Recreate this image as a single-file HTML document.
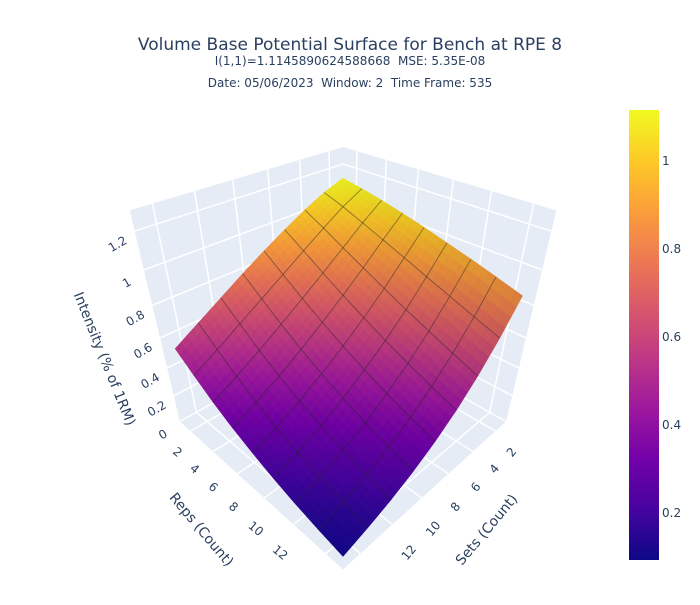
<!DOCTYPE html>
<html><head><meta charset="utf-8">
<style>
html,body{margin:0;padding:0;background:#fff;}
svg text{font-family:"DejaVu Sans","Liberation Sans",sans-serif;fill:#2a3f5f;white-space:pre;}
</style></head>
<body>
<svg id="chart" width="700" height="600" viewBox="0 0 700 600">
  <text x="350" y="50" text-anchor="middle" font-size="17">Volume Base Potential Surface for Bench at RPE 8</text>
  <text x="350" y="65" text-anchor="middle" font-size="12" xml:space="preserve">I(1,1)=1.1145890624588668  MSE: 5.35E-08</text>
  <text x="350" y="87" text-anchor="middle" font-size="12" xml:space="preserve">Date: 05/06/2023  Window: 2  Time Frame: 535</text>
  <g id="scene"></g>
  <defs>
    <linearGradient id="plasma" x1="0" y1="1" x2="0" y2="0">
      <stop offset="0" stop-color="#0d0887"/><stop offset="0.111" stop-color="#46039f"/>
      <stop offset="0.222" stop-color="#7201a8"/><stop offset="0.333" stop-color="#9c179e"/>
      <stop offset="0.444" stop-color="#bd3786"/><stop offset="0.556" stop-color="#d8576b"/>
      <stop offset="0.667" stop-color="#ed7953"/><stop offset="0.778" stop-color="#fb9f3a"/>
      <stop offset="0.889" stop-color="#fdca26"/><stop offset="1" stop-color="#f0f921"/>
    </linearGradient>
  </defs>
  <g id="colorbar">
    <rect x="629" y="110" width="30" height="450" fill="url(#plasma)"/>
  </g>
</svg>
<script>
// ---- data ----
const repsValues = [1, 2.5, 4, 5.5, 7, 8.5, 10, 11.5, 13];
const setsValues = [1, 2.5, 4, 5.5, 7, 8.5, 10, 11.5, 13];
// intensity rows: one row per reps value, columns per sets value
const intensityRows = [
  [1.114, 1.070, 1.010, 0.940, 0.865, 0.785, 0.700, 0.615, 0.530],
  [1.093, 1.030, 0.950, 0.866, 0.780, 0.695, 0.610, 0.525, 0.445],
  [1.068, 0.982, 0.885, 0.790, 0.697, 0.607, 0.520, 0.440, 0.365],
  [1.039, 0.933, 0.822, 0.717, 0.620, 0.527, 0.442, 0.367, 0.298],
  [1.007, 0.884, 0.760, 0.649, 0.548, 0.457, 0.375, 0.304, 0.243],
  [0.971, 0.832, 0.700, 0.584, 0.483, 0.393, 0.315, 0.250, 0.195],
  [0.935, 0.782, 0.644, 0.525, 0.424, 0.337, 0.265, 0.206, 0.156],
  [0.896, 0.732, 0.589, 0.469, 0.371, 0.288, 0.222, 0.168, 0.125],
  [0.855, 0.683, 0.537, 0.418, 0.323, 0.246, 0.185, 0.138, 0.100]
];
const repsTicks = [2, 4, 6, 8, 10, 12];
const setsTicks = [2, 4, 6, 8, 10, 12];
const zTicks = [0, 0.2, 0.4, 0.6, 0.8, 1, 1.2];
const zTickLabels = ["0", "0.2", "0.4", "0.6", "0.8", "1", "1.2"];
const colorbarTicks = [0.2, 0.4, 0.6, 0.8, 1];
const colorbarLabels = ["0.2", "0.4", "0.6", "0.8", "1"];
const cMin = 0.093, cMax = 1.116;
const zMax = 1.3;

const NS = "http://www.w3.org/2000/svg";
const scene = document.getElementById('scene');
const rMin = repsValues[0], rMax = repsValues[repsValues.length-1];
const sMin = setsValues[0], sMax = setsValues[setsValues.length-1];

function norm(r, s, z){
  return [(s - sMin)/(sMax - sMin) - 0.5, (r - rMin)/(rMax - rMin) - 0.5, z/zMax - 0.5];
}
const CX = 343, CY = 330, SX = 566, SY = 550;
function proj(p){
  const dx = p[0]-1.25, dy = p[1]-1.25, dz = p[2]-1.25;
  const depth = -(dx+dy+dz)/Math.sqrt(3);
  const rx = (-dx+dy)/Math.SQRT2;
  const uy = (-dx-dy+2*dz)/Math.sqrt(6);
  return [CX + SX*rx/depth, CY - SY*uy/depth, depth];
}
const SURF_X = 0.93;
function projS(p){ const q = proj(p); return [CX + (q[0]-CX)*SURF_X, q[1], q[2]]; }
function P(r,s,z){ return proj(norm(r,s,z)); }
function PS(r,s,z){ return projS(norm(r,s,z)); }
function pts(arr){ return arr.map(p=>p[0].toFixed(2)+','+p[1].toFixed(2)).join(' '); }

const stops = ["#0d0887","#46039f","#7201a8","#9c179e","#bd3786","#d8576b","#ed7953","#fb9f3a","#fdca26","#f0f921"].map(h=>[parseInt(h.slice(1,3),16),parseInt(h.slice(3,5),16),parseInt(h.slice(5,7),16)]);
function plasma(v, shade){
  let t = Math.max(0, Math.min(1, (v-cMin)/(cMax-cMin)))*(stops.length-1);
  const i = Math.min(stops.length-2, Math.floor(t)); const f = t - i;
  const c = stops[i].map((a,k)=>Math.round(Math.min(255,(a+(stops[i+1][k]-a)*f)*shade)));
  return 'rgb('+c.join(',')+')';
}

// ---- axis walls ----
const wallFill = '#e5ecf6';
const floorPoly = [P(rMin,sMin,0),P(rMax,sMin,0),P(rMax,sMax,0),P(rMin,sMax,0)];
const leftWall = [P(rMin,sMin,0),P(rMin,sMax,0),P(rMin,sMax,zMax),P(rMin,sMin,zMax)];
const rightWall = [P(rMin,sMin,0),P(rMax,sMin,0),P(rMax,sMin,zMax),P(rMin,sMin,zMax)];
[[floorPoly,'floor-plane'],[leftWall,'reps-wall'],[rightWall,'sets-wall']].forEach(([poly,name])=>{
  const el = document.createElementNS(NS,'polygon');
  el.setAttribute('points', pts(poly));
  el.setAttribute('fill', wallFill);
  
  
  scene.appendChild(el);
});
function gridLine(a,b,name){
  const el = document.createElementNS(NS,'line');
  el.setAttribute('x1',a[0]); el.setAttribute('y1',a[1]);
  el.setAttribute('x2',b[0]); el.setAttribute('y2',b[1]);
  el.setAttribute('stroke','#fff'); el.setAttribute('stroke-width','1.5');
  
  
  scene.appendChild(el);
}
repsTicks.forEach(r=>{
  gridLine(P(r,sMin,0),P(r,sMax,0),'floor-grid-reps');
  gridLine(P(r,sMin,0),P(r,sMin,zMax),'wall-grid-reps');
});
setsTicks.forEach(s=>{
  gridLine(P(rMin,s,0),P(rMax,s,0),'floor-grid-sets');
  gridLine(P(rMin,s,0),P(rMin,s,zMax),'wall-grid-sets');
});
zTicks.forEach(z=>{
  gridLine(P(rMin,sMin,z),P(rMin,sMax,z),'wall-grid-z');
  gridLine(P(rMin,sMin,z),P(rMax,sMin,z),'wall-grid-z');
});

// ---- surface ----
function interp(fi, fj){
  const n = repsValues.length-1, m = setsValues.length-1;
  const i0 = Math.min(n-1, Math.floor(fi)), j0 = Math.min(m-1, Math.floor(fj));
  const a = fi-i0, b = fj-j0;
  const z = intensityRows[i0][j0]*(1-a)*(1-b) + intensityRows[i0+1][j0]*a*(1-b) + intensityRows[i0][j0+1]*(1-a)*b + intensityRows[i0+1][j0+1]*a*b;
  const r = repsValues[i0] + (repsValues[i0+1]-repsValues[i0])*a;
  const s = setsValues[j0] + (setsValues[j0+1]-setsValues[j0])*b;
  return [r,s,z];
}
const SUB = 4;
const nI = (repsValues.length-1)*SUB, nJ = (setsValues.length-1)*SUB;
const quads = [];
const L = (()=>{const v=[-0.3,0.9,1.0];const l=Math.hypot(...v);return v.map(x=>x/l);})();
for(let i=0;i<nI;i++){
  for(let j=0;j<nJ;j++){
    const c = [[i,j],[i+1,j],[i+1,j+1],[i,j+1]].map(([a,b])=>interp(a/SUB,b/SUB));
    const n3 = c.map(q=>norm(q[0],q[1],q[2]));
    const d1 = n3[2].map((v,k)=>v-n3[0][k]), d2 = n3[3].map((v,k)=>v-n3[1][k]);
    let nn = [d1[1]*d2[2]-d1[2]*d2[1], d1[2]*d2[0]-d1[0]*d2[2], d1[0]*d2[1]-d1[1]*d2[0]];
    const ln = Math.hypot(...nn); nn = nn.map(x=>x/ln); if(nn[2]<0) nn = nn.map(x=>-x);
    const dot = nn[0]*L[0]+nn[1]*L[1]+nn[2]*L[2];
    const shade = 0.78 + 0.24*dot;
    const pr = n3.map(projS);
    const zAvg = (c[0][2]+c[1][2]+c[2][2]+c[3][2])/4;
    const depth = (pr[0][2]+pr[1][2]+pr[2][2]+pr[3][2])/4;
    quads.push({pr, zAvg, depth, shade});
  }
}
quads.sort((a,b)=>b.depth-a.depth);
const surf = document.createElementNS(NS,'g');


scene.appendChild(surf);
quads.forEach(q=>{
  const el = document.createElementNS(NS,'polygon');
  const col = plasma(q.zAvg, q.shade);
  el.setAttribute('points', pts(q.pr));
  el.setAttribute('fill', col); el.setAttribute('stroke', col); el.setAttribute('stroke-width','0.6');
  
  
  surf.appendChild(el);
});
function meshLine(list, name){
  const el = document.createElementNS(NS,'polyline');
  el.setAttribute('points', pts(list.map(q=>PS(q[0],q[1],q[2]))));
  el.setAttribute('fill','none'); el.setAttribute('stroke','rgba(40,40,40,0.5)'); el.setAttribute('stroke-width','0.9');
  
  
  surf.appendChild(el);
}
for(let i=1;i<repsValues.length-1;i++){
  const list=[]; for(let j=0;j<=nJ;j++) list.push(interp(i, j/SUB)); meshLine(list,'mesh-line-reps');
}
for(let j=1;j<setsValues.length-1;j++){
  const list=[]; for(let i=0;i<=nI;i++) list.push(interp(i/SUB, j)); meshLine(list,'mesh-line-sets');
}

// ---- tick labels ----
function label(txt,x,y,rot,size,name){
  const el = document.createElementNS(NS,'text');
  el.textContent = txt;
  el.setAttribute('x',x.toFixed(1)); el.setAttribute('y',y.toFixed(1));
  el.setAttribute('font-size',size); el.setAttribute('text-anchor','middle');
  el.setAttribute('dominant-baseline','central');
  el.setAttribute('transform','rotate('+rot+' '+x.toFixed(1)+' '+y.toFixed(1)+')');
  
  
  scene.appendChild(el);
}
const LABEL_KX = 0.76, LABEL_KY = 0.82;
zTicks.forEach((z,k)=>{ const p=P(rMin,sMax,z); label(zTickLabels[k], p[0]-17, p[1]+13, -30, 12, 'z-tick-label'); });
const rA = P(repsTicks[0], sMax, 0);
repsTicks.forEach(r=>{ const p=P(r,sMax,0);
  const x = rA[0] + (p[0]-rA[0])*LABEL_KX, y = rA[1] + (p[1]-rA[1])*LABEL_KY;
  label(String(r), x-13, y+21, 40, 12, 'reps-tick-label'); });
const sA = P(rMax, setsTicks[0], 0);
setsTicks.forEach(s=>{ const p=P(rMax,s,0);
  const x = sA[0] + (p[0]-sA[0])*LABEL_KX, y = sA[1] + (p[1]-sA[1])*LABEL_KY;
  label(String(s), x+16, y+21, -50, 12, 'sets-tick-label'); });
label('Intensity (% of 1RM)', 104, 359, 68, 14, 'z-axis-title');
label('Reps (Count)', 201, 530, 50, 14, 'reps-axis-title');
label('Sets (Count)', 487, 530, -50, 14, 'sets-axis-title');

// ---- colorbar ticks ----
const cb = document.getElementById('colorbar');
colorbarTicks.forEach((v,k)=>{
  const y = 560 - (v-cMin)/(cMax-cMin)*450;
  const el = document.createElementNS(NS,'text');
  el.textContent = colorbarLabels[k];
  el.setAttribute('x','662'); el.setAttribute('y',(y+4).toFixed(1));
  el.setAttribute('font-size','12');
  
  
  cb.appendChild(el);
});
</script>
</body></html>
